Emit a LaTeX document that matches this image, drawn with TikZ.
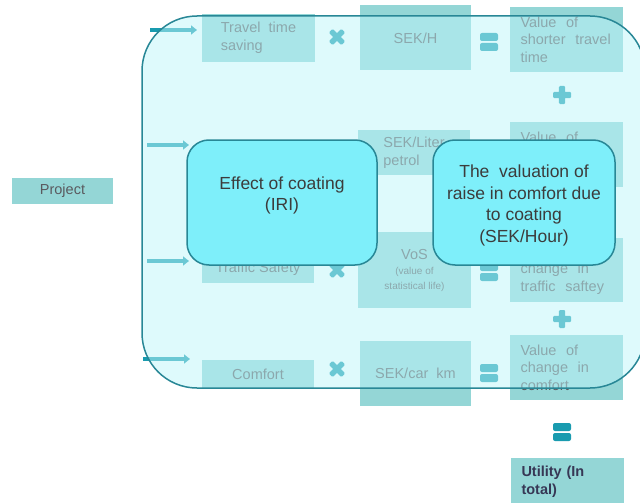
\documentclass[tikz,border=0pt]{standalone}
\usepackage{fontspec}
\setmainfont{Liberation Sans}
\usetikzlibrary{arrows.meta}
\definecolor{boxc}{RGB}{148,214,214}
\definecolor{ovc}{RGB}{190,245,250}
\definecolor{brd}{RGB}{40,135,150}
\definecolor{callc}{RGB}{126,239,250}
\definecolor{opc}{RGB}{25,155,175}
\definecolor{txt}{RGB}{90,90,95}
\definecolor{ctxt}{RGB}{60,60,60}
\definecolor{utxt}{RGB}{55,55,85}
\begin{document}
\begin{tikzpicture}[x=1pt,y=-1pt,
  bx/.style={rectangle, fill=boxc, draw=none, inner sep=0pt, align=left, text=txt,
    font=\fontsize{14.5}{17.5}\selectfont},
  vbx/.style={bx, text width=92pt, inner xsep=10.5pt},
  callout/.style={rectangle, rounded corners=22pt, draw=brd, line width=1.5pt, fill=callc, inner sep=0pt},
  ctext/.style={align=center, text=ctxt, font=\fontsize{17.5}{21.6}\selectfont, inner sep=0pt},
  frame/.style={rectangle, rounded corners=55pt, draw=brd, line width=1.5pt, fill=ovc, fill opacity=0.5, draw opacity=1, inner sep=0pt},
  arr/.style={draw=opc, line width=3.5pt, -{Triangle[length=6pt,width=9pt]}},
  opmult/.pic={\fill[opc, rotate=45, rounded corners=1.2pt] (-9,-2.8) rectangle (9,2.8) (-2.8,-9) rectangle (2.8,9);},
  opplus/.pic={\fill[opc, rounded corners=1.2pt] (-9,-3.2) rectangle (9,3.2) (-3.2,-9) rectangle (3.2,9);},
  opeq/.pic={\fill[opc, rounded corners=2pt] (-9,-9) rectangle (9,-1); \fill[opc, rounded corners=2pt] (-9,1) rectangle (9,9);}
]
\useasboundingbox (0,0) rectangle (640,503);

% Project
\node[bx, minimum width=101pt, minimum height=26pt, align=center] (pro) at (62.5,191) {Project};

% row 1
\node[bx, minimum width=113pt, minimum height=48pt] (tts) at (258.5,38) {Travel\ \ time\\saving};
\node[bx, minimum width=111pt, minimum height=65pt, align=center] (sekh) at (415.5,38) {SEK/H};
\node[vbx, minimum height=65pt] (vstt) at (566.5,39.5) {Value\ \ of\\shorter\ \ travel\\time};
\pic at (337,37) {opmult};
\pic at (489,42) {opeq};
\pic at (562,95) {opplus};

% row 2
\node[bx, minimum width=112pt, minimum height=45pt] (sekl) at (414,152.5) {SEK/Liter\\petrol};
\node[vbx, minimum height=65pt] (vfuel) at (566.5,154.5) {Value\ \ of\\\phantom{x}\\\phantom{x}};

% row 3
\node[bx, minimum width=112pt, minimum height=28pt, align=center] (ts) at (258,269) {Traffic Safety};
\node[bx, minimum width=113pt, minimum height=76pt, align=center] (vos) at (414.5,270)
  {VoS\\[-2pt]{\fontsize{10}{15}\selectfont (value of}\\[-3pt]{\fontsize{10}{15}\selectfont statistical life)}};
\node[vbx, minimum height=64pt] (vts) at (566.5,270) {Value\ \ of\\change\ \ in\\traffic\ \ saftey};
\pic at (337,270) {opmult};
\pic at (489,272) {opeq};
\pic at (562,319) {opplus};

% row 4
\node[bx, minimum width=112pt, minimum height=29pt, align=center] (com) at (258,374.5) {Comfort};
\node[bx, minimum width=111pt, minimum height=65pt, align=center] (sekc) at (415.5,373.5) {SEK/car\ \ km};
\node[vbx, minimum height=65pt] (vcom) at (566.5,367.5) {Value\ \ of\\change\ \ in\\comfort};
\pic at (337,369) {opmult};
\pic at (489,373) {opeq};

% arrows
\coordinate (a1s) at (150,30); \coordinate (a1e) at (197,30);
\coordinate (a2s) at (147,145); \coordinate (a2e) at (189,145);
\coordinate (a3s) at (147,261); \coordinate (a3e) at (189,261);
\coordinate (a4s) at (143,359); \coordinate (a4e) at (190,359);
\draw[arr] (a1s) -- (a1e);
\draw[arr] (a2s) -- (a2e);
\draw[arr] (a3s) -- (a3e);
\draw[arr] (a4s) -- (a4e);

% overlay frame
\node[frame, minimum width=503pt, minimum height=372pt] (frm) at (393.5,202) {};

% outside the frame
\pic at (562,432) {opeq};
\node[vbx, minimum height=47pt, text=utxt, font=\bfseries\fontsize{14.5}{17.5}\selectfont] (util) at (567.5,481.5) {Utility (In\\total)};

% callouts
\node[callout, minimum width=190pt, minimum height=125pt] (eff) at (282,202.5) {};
\node[ctext] (effT) at ([yshift=7pt]eff.center) {Effect of coating\\(IRI)};
\node[callout, minimum width=182pt, minimum height=125pt] (val) at (524,202.5) {};
\node[ctext] (valT) at ([yshift=-3pt]val.center) {The\ \ valuation of\\raise in comfort due\\to coating\\(SEK/Hour)};
\end{tikzpicture}
\end{document}
